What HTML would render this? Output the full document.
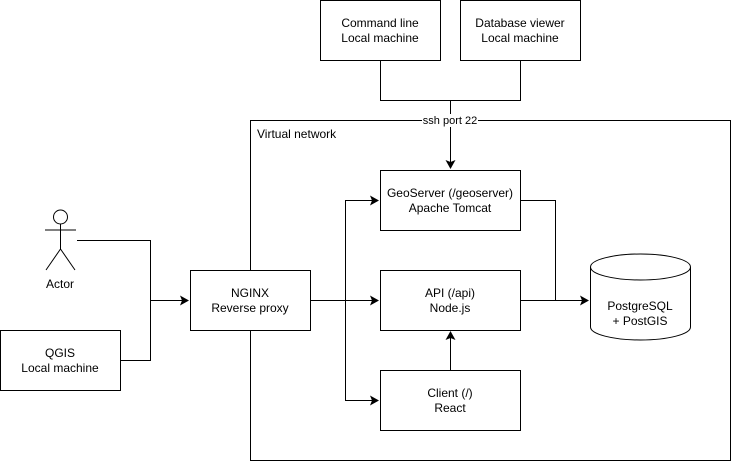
<!DOCTYPE html>
<html><head><style>
html,body{margin:0;padding:0;background:#fff;}
svg text{font-family:"Liberation Sans",Arial,sans-serif;font-size:12px;fill:#000;}
</style></head><body>
<svg width="731" height="461" viewBox="0 0 731 461" xmlns="http://www.w3.org/2000/svg">
<defs><marker id="a" markerWidth="10" markerHeight="10" refX="8" refY="5" orient="auto" markerUnits="userSpaceOnUse"><path d="M0,0 L9,5 L0,10 L2,5 Z" fill="#000"/></marker></defs>
<g fill="none" stroke="#000" stroke-width="1">
<rect x="250.5" y="120.5" width="480" height="340"/>
<path d="M380.5,60 V100.5 H520.5 V60 M450.5,100 V168" marker-end="url(#a)"/>
<path d="M77,240.5 H150.5 V300.5 H188" marker-end="url(#a)"/>
<path d="M120,360.5 H150.5 V300.5"/>
<path d="M310,300.5 H378" marker-end="url(#a)"/>
<path d="M345.5,300 V200.5 H378" marker-end="url(#a)"/>
<path d="M345.5,300 V400.5 H378" marker-end="url(#a)"/>
<path d="M520,300.5 H588" marker-end="url(#a)"/>
<path d="M520,200.5 H555.5 V300.5"/>
<path d="M450.5,370 V332" marker-end="url(#a)"/>
</g>
<g fill="#fff" stroke="#000" stroke-width="1">
<rect x="320.5" y="0.5" width="120" height="60"/>
<rect x="460.5" y="0.5" width="120" height="60"/>
<rect x="380.5" y="170.5" width="140" height="60"/>
<rect x="380.5" y="270.5" width="140" height="60"/>
<rect x="380.5" y="370.5" width="140" height="60"/>
<rect x="190.5" y="270.5" width="120" height="60"/>
<rect x="0.5" y="330.5" width="120" height="60"/>
<path d="M590.5,267 L590.5,327 A50,13 0 0 0 690.5,327 L690.5,267"/>
<ellipse cx="640.5" cy="267" rx="50" ry="13"/>
<circle cx="60.5" cy="217" r="7"/>
<path fill="none" d="M60.5,224 V249 M45,230 H76 M60.5,249 L46,270 M60.5,249 L75,270"/>
</g>
<rect x="422" y="114" width="56" height="13" fill="#fff"/>
<text x="450" y="124" text-anchor="middle" style="font-size:11px">ssh port 22</text>
<text x="257" y="138">Virtual network</text>
<text x="380" y="27" text-anchor="middle">Command line</text>
<text x="380" y="42" text-anchor="middle">Local machine</text>
<text x="520" y="27" text-anchor="middle">Database viewer</text>
<text x="520" y="42" text-anchor="middle">Local machine</text>
<text x="450" y="197" text-anchor="middle">GeoServer (/geoserver)</text>
<text x="450" y="212" text-anchor="middle">Apache Tomcat</text>
<text x="450" y="297" text-anchor="middle">API (/api)</text>
<text x="450" y="312" text-anchor="middle">Node.js</text>
<text x="450" y="397" text-anchor="middle">Client (/)</text>
<text x="450" y="412" text-anchor="middle">React</text>
<text x="250" y="297" text-anchor="middle">NGINX</text>
<text x="250" y="312" text-anchor="middle">Reverse proxy</text>
<text x="60" y="357" text-anchor="middle">QGIS</text>
<text x="60" y="372" text-anchor="middle">Local machine</text>
<text x="60" y="288" text-anchor="middle">Actor</text>
<text x="640" y="310" text-anchor="middle">PostgreSQL</text>
<text x="640" y="325" text-anchor="middle">+ PostGIS</text>
</svg>
</body></html>
